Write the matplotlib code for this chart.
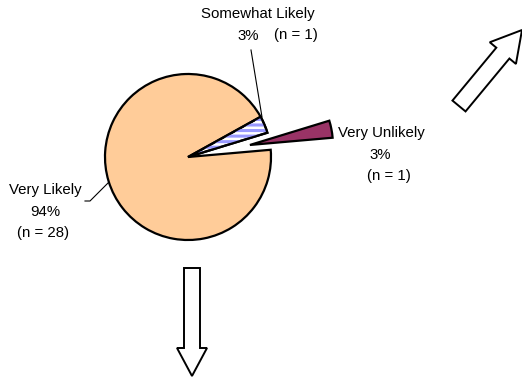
import matplotlib.pyplot as plt
from matplotlib.patches import Wedge, FancyArrow

plt.rcParams['font.family'] = ['Liberation Sans', 'DejaVu Sans']
plt.rcParams['hatch.linewidth'] = 2.2

# data
categories = ["Very Unlikely", "Somewhat Likely", "Very Likely"]
counts = [1, 1, 28]
pct_labels = ["3%", "3%", "94%"]
colors = ["#993366", "#FFFFFF", "#FFCC99"]
explode_frac = [0.76, 0, 0]

W, H = 522, 378
fig = plt.figure(figsize=(W / 100, H / 100), dpi=100)
ax = fig.add_axes([0, 0, 1, 1])

cx, cy, r = 188, H - 157, 83

# pie() takes explode as a plain distance, so scale by the radius
wedges, _ = ax.pie(counts, colors=colors, explode=[e * r for e in explode_frac],
                   startangle=5, counterclock=True, center=(cx, cy), radius=r,
                   wedgeprops=dict(edgecolor='black', linewidth=1.6))

# pie() sets its own limits, so put the pixel frame back afterwards
ax.set_xlim(0, W)
ax.set_ylim(0, H)
ax.set_aspect('equal')
ax.axis('off')

# striped fill on the "Somewhat Likely" slice
sw = wedges[1]
stripes = Wedge(sw.center, sw.r, sw.theta1, sw.theta2, facecolor='none',
                edgecolor='#9999FF', hatch='---', linewidth=0, zorder=sw.get_zorder() + 0.1)
ax.add_patch(stripes)
outline = Wedge(sw.center, sw.r, sw.theta1, sw.theta2, facecolor='none',
                edgecolor='black', linewidth=1.6, zorder=sw.get_zorder() + 0.2)
ax.add_patch(outline)

fs = 10.8
def y(p):
    return H - p

# Somewhat Likely label
ax.text(258, y(14), categories[1], ha='center', va='center', fontsize=fs)
ax.text(248, y(36), pct_labels[1], ha='center', va='center', fontsize=fs)
ax.text(296, y(35), "(n = %d)" % counts[1], ha='center', va='center', fontsize=fs)
ax.plot([251, 262], [y(50), y(117)], color='black', lw=0.8)

# Very Unlikely label
ax.text(381, y(133), categories[0], ha='center', va='center', fontsize=fs)
ax.text(380, y(155), pct_labels[0], ha='center', va='center', fontsize=fs)
ax.text(389, y(176), "(n = %d)" % counts[0], ha='center', va='center', fontsize=fs)

# Very Likely label
ax.text(45, y(190), categories[2], ha='center', va='center', fontsize=fs)
ax.text(45, y(212), pct_labels[2], ha='center', va='center', fontsize=fs)
ax.text(43, y(233), "(n = %d)" % counts[2], ha='center', va='center', fontsize=fs)
ax.plot([85, 90, 108], [y(201), y(201), y(183)], color='black', lw=0.8)

# hollow block arrows
ax.add_patch(FancyArrow(192, y(268), 0, -(377 - 268) + 1, width=16, head_width=30,
                        head_length=28, length_includes_head=True,
                        facecolor='white', edgecolor='black', linewidth=1.4))
ax.add_patch(FancyArrow(459, y(106), 63, 76, width=17, head_width=34,
                        head_length=30, length_includes_head=True,
                        facecolor='white', edgecolor='black', linewidth=1.4))

fig.savefig('out.png', dpi=100)
